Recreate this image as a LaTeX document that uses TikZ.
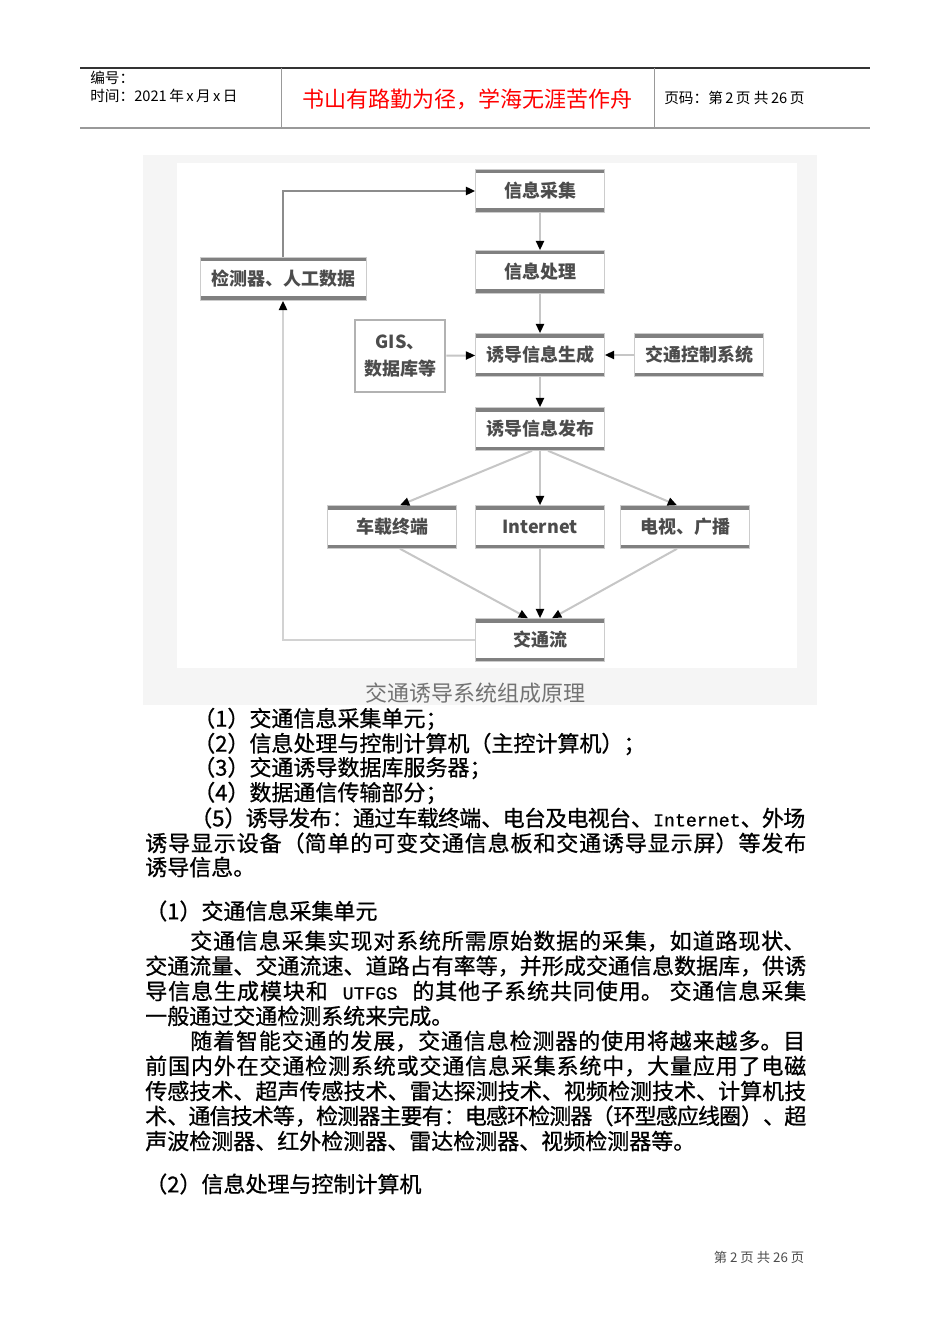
\documentclass[tikz,border=0pt]{standalone}
\usepackage{fontspec}
\setmainfont{Noto Sans CJK SC}
\newfontfamily\bodyfont[FakeBold=0.8]{Noto Sans CJK SC}
\newfontfamily\asc[Scale=0.83,FakeBold=0.8]{Liberation Mono}
\usetikzlibrary{arrows.meta}
\XeTeXlinebreaklocale "zh"
\XeTeXlinebreakskip=0pt plus 1pt minus 1pt
\newcommand\fullline[2]{\parbox[b]{#1}{\noindent\parfillskip=0pt\relax #2\par}}

\begin{document}
\begin{tikzpicture}[x=0.75pt,y=-0.75pt,
  box/.style={draw=gray!40,fill=white,minimum width=96.75pt,minimum height=32.25pt,inner sep=1pt,
    font=\fontsize{13.5}{15}\bfseries,text=black!70,
    path picture={\draw[gray,line width=6pt] (path picture bounding box.north west) -- (path picture bounding box.north east);
      \draw[gray,line width=6pt] (path picture bounding box.south west) -- (path picture bounding box.south east);}},
  gisbox/.style={draw=gray!60,line width=2pt,fill=white,minimum width=67.5pt,minimum height=54pt,align=center,
    font=\fontsize{13.5}{20}\bfseries,text=black!70},
  link/.style={draw=gray!45,line width=1.5pt,-{Triangle[color=black,length=7pt,width=6pt]}},
  head/.style={anchor=west,inner sep=0pt,font=\fontsize{11}{13}\selectfont},
  body/.style={anchor=west,inner sep=0pt,font=\fontsize{16.5}{18}\bodyfont}]
\useasboundingbox (0,0) rectangle (950,1344);
\draw[black!80,line width=0.8pt] (80,68) -- (870,68);
\draw[gray!80,line width=1.5pt] (80,128) -- (870,128);
\draw[gray!80] (281,68) -- (281,128) (654,68) -- (654,128);
\node[head] (bianhao) at (90,78) {编号：};
\node[head] (shijian) at (90,96) {时间：2021\,年\,x\,月\,x\,日};
\node[font=\fontsize{16.5}{18}\selectfont,text=red] (motto) at (467,99) {书山有路勤为径，学海无涯苦作舟};
\node[head] (yema) at (664,98) {页码：第\,2\,页 共\,26\,页};

\fill[gray!8] (143,155) rectangle (817,705);
\fill[white] (177,163) rectangle (797,668);
\node[box] (caiji) at (540,191) {信息采集};
\node[box] (chuli) at (540,272) {信息处理};
\node[box,minimum width=124.5pt] (jiance) at (283,279) {检测器、人工数据};
\node[gisbox] (gis) at (400,356) {GIS、\\数据库等};
\node[box] (shengcheng) at (540,355) {诱导信息生成};
\node[box] (kongzhi) at (699,355) {交通控制系统};
\node[box] (fabu) at (540,429) {诱导信息发布};
\node[box] (chezai) at (392,527) {车载终端};
\node[box] (internet) at (540,527) {Internet};
\node[box] (dianshi) at (685,527) {电视、广播};
\node[box] (liu) at (540,640) {交通流};
\draw[link] (caiji) -- (chuli);
\draw[link] (chuli) -- (shengcheng);
\draw[link] (gis) -- (shengcheng);
\draw[link] (kongzhi) -- (shengcheng);
\draw[link] (shengcheng) -- (fabu);
\draw[link] ([xshift=-6pt]fabu.south) -- ([xshift=6pt]chezai.north);
\draw[link] (fabu) -- (internet);
\draw[link] ([xshift=6pt]fabu.south) -- ([xshift=-6pt]dianshi.north);
\draw[link] ([xshift=6pt]chezai.south) -- ([xshift=-9pt]liu.north);
\draw[link] (internet) -- (liu);
\draw[link] ([xshift=-6pt]dianshi.south) -- ([xshift=9pt]liu.north);
\draw[link,draw=gray!35,line width=2.2pt] (liu.west) -| (jiance.south);
\draw[link,draw=gray!90,line width=2.2pt] (jiance.north) |- (caiji.west);
\node[font=\fontsize{16.5}{18}\selectfont,text=black!55] (caption) at (475,693) {交通诱导系统组成原理};

\node[body] (l1) at (193,719) {（1）交通信息采集单元；};
\node[body] (l2) at (193,744) {（2）信息处理与控制计算机（主控计算机）；};
\node[body] (l3) at (193,768) {（3）交通诱导数据库服务器；};
\node[body] (l4) at (193,793) {（4）数据通信传输部分；};
\node[body] (l5) at (190,818) {\fullline{461.25pt}{（5）诱导发布：通过车载终端、电台及电视台、{\asc Internet}、外场}};
\node[body] (l6) at (145,843) {\fullline{495.75pt}{诱导显示设备（简单的可变交通信息板和交通诱导显示屏）等发布}};
\node[body] (l7) at (145,867) {诱导信息。};
\node[body] (l8) at (145,911) {（1）交通信息采集单元};
\node[body] (l9) at (190,941) {\fullline{461.25pt}{交通信息采集实现对系统所需原始数据的采集，如道路现状、}};
\node[body] (l10) at (145,966) {\fullline{495.75pt}{交通流量、交通流速、道路占有率等，并形成交通信息数据库，供诱}};
\node[body] (l11) at (145,991) {\fullline{495.75pt}{导信息生成模块和{\asc\ UTFGS\ }的其他子系统共同使用。\ 交通信息采集}};
\node[body] (l12) at (145,1016) {一般通过交通检测系统来完成。};
\node[body] (l13) at (190,1041) {\fullline{461.25pt}{随着智能交通的发展，交通信息检测器的使用将越来越多。目}};
\node[body] (l14) at (145,1066) {\fullline{495.75pt}{前国内外在交通检测系统或交通信息采集系统中，大量应用了电磁}};
\node[body] (l15) at (145,1091) {\fullline{495.75pt}{传感技术、超声传感技术、雷达探测技术、视频检测技术、计算机技}};
\node[body] (l16) at (145,1116) {\fullline{495.75pt}{术、通信技术等，检测器主要有：电感环检测器（环型感应线圈）、超}};
\node[body] (l17) at (145,1141) {声波检测器、红外检测器、雷达检测器、视频检测器等。};
\node[body] (l18) at (145,1184) {（2）信息处理与控制计算机};
\node[font=\fontsize{10}{12}\selectfont,text=black!70] (footer) at (759,1257) {第 2 页 共 26 页};
\end{tikzpicture}
\end{document}
